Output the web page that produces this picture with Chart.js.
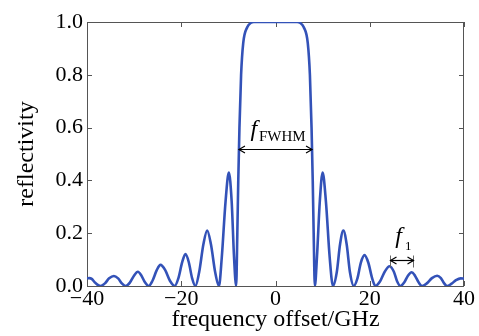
<!DOCTYPE html>
<html>
<head>
<meta charset="utf-8">
<script src="https://cdn.jsdelivr.net/npm/chart.js@4.4.1/dist/chart.umd.min.js"></script>
<style>
  html, body { margin: 0; padding: 0; background: #fff; }
  #chart { display: block; }
</style>
</head>
<body>
<canvas id="chart" width="479" height="336"></canvas>
<script>
// frequency offset (GHz) and reflectivity
const freq = [
  -40, -39.5, -39.0, -38.4, -37.8, -37.2, -36.2, -35.3, -34.3, -33.4, -32.6, -31.8,
  -30.9, -30.0, -29.2, -28.5, -27.7, -26.9, -26.1, -25.2, -24.4, -23.4, -22.4, -21.4,
  -20.6, -19.8, -19.1, -18.4, -17.7, -17.0, -16.2, -15.3, -14.5, -13.7, -12.8, -12.0,
  -11.4, -10.6, -9.9, -9.3, -8.8, -8.35, -8.1, -7.9, -7.65, -7.3, -6.85, -6.0, -5.2, -4.6,
  0,
  4.6, 5.2, 6.0, 6.85, 7.3, 7.65, 7.9, 8.1, 8.35, 8.8, 9.4, 10.0, 10.7, 11.5, 12.2,
  13.0, 13.7, 14.4, 15.1, 15.8, 16.6, 17.4, 18.1, 18.9, 19.7, 20.5, 21.2,
  22.2, 23.2, 24.2, 25.1, 25.8, 26.5, 27.3, 28.1, 28.9, 29.6, 30.4, 31.1,
  32.1, 33.2, 34.3, 35.1, 35.8, 36.4, 37.3, 38.3, 39.3, 40
];
const reflectivity = [
  0.029, 0.030, 0.027, 0.015, 0.005, 0, 0.010, 0.029, 0.038, 0.029, 0.010, 0,
  0.013, 0.040, 0.054, 0.041, 0.014, 0, 0.020, 0.060, 0.080, 0.060, 0.020, 0,
  0.030, 0.090, 0.121, 0.090, 0.030, 0, 0.052, 0.158, 0.210, 0.158, 0.052, 0,
  0.108, 0.320, 0.430, 0.320, 0.110, 0, 0.20, 0.40, 0.60, 0.80, 0.92, 0.98, 0.997, 1.0,
  1.0,
  1.0, 0.997, 0.98, 0.92, 0.80, 0.60, 0.40, 0.20, 0, 0.110, 0.320, 0.430, 0.320, 0.108, 0,
  0.052, 0.158, 0.210, 0.158, 0.052, 0, 0.030, 0.088, 0.117, 0.088, 0.030, 0,
  0.018, 0.055, 0.075, 0.055, 0.018, 0, 0.013, 0.039, 0.052, 0.039, 0.013, 0,
  0.010, 0.030, 0.039, 0.030, 0.010, 0, 0.008, 0.022, 0.029, 0.028
];
const xTicks = [-40, -20, 0, 20, 40];
const yTicks = [0, 0.2, 0.4, 0.6, 0.8, 1.0];

const serif = "'Liberation Serif', 'Times New Roman', serif";
const frameColor = "#555";

function arrowHead(ctx, x, y, dir) {
  ctx.beginPath();
  ctx.moveTo(x + dir * 6, y - 3.5);
  ctx.lineTo(x, y);
  ctx.lineTo(x + dir * 6, y + 3.5);
  ctx.stroke();
}

const framePlugin = {
  id: "frame",
  beforeDatasetsDraw(chart) {
    const { ctx, chartArea: a, scales } = chart;
    ctx.save();
    ctx.strokeStyle = frameColor;
    ctx.lineWidth = 1;
    ctx.strokeRect(a.left + 0.5, a.top + 0.5, a.right - a.left - 1, a.bottom - a.top);
    ctx.beginPath();
    xTicks.forEach(v => {
      const px = Math.round(scales.x.getPixelForValue(v)) + 0.5;
      ctx.moveTo(px, a.bottom); ctx.lineTo(px, a.bottom - 5);
      ctx.moveTo(px, a.top); ctx.lineTo(px, a.top + 5);
    });
    yTicks.forEach(v => {
      const py = Math.round(scales.y.getPixelForValue(v)) + 0.5;
      ctx.moveTo(a.left, py); ctx.lineTo(a.left + 5, py);
      ctx.moveTo(a.right, py); ctx.lineTo(a.right - 5, py);
    });
    ctx.stroke();
    ctx.restore();
  },
  afterDatasetsDraw(chart) {
    const { ctx, scales } = chart;
    const X = v => scales.x.getPixelForValue(v);
    const Y = v => scales.y.getPixelForValue(v);
    ctx.save();
    ctx.strokeStyle = "#000";
    ctx.fillStyle = "#000";
    ctx.lineWidth = 1.2;

    // FWHM arrow
    const ay = Math.round(Y(0.52)) + 0.5;
    const x1 = X(-7.75), x2 = X(7.75);
    ctx.beginPath(); ctx.moveTo(x1, ay); ctx.lineTo(x2, ay); ctx.stroke();
    arrowHead(ctx, x1, ay, 1);
    arrowHead(ctx, x2, ay, -1);
    ctx.textBaseline = "alphabetic";
    ctx.textAlign = "left";
    ctx.font = "italic 24px " + serif;
    ctx.fillText("f", X(-5.3), Y(0.568));
    ctx.font = "15px " + serif;
    ctx.fillText("FWHM", X(-3.5), Y(0.549));

    // f1 spacing marker
    const by = Math.round(Y(0.098)) + 0.5;
    const b1 = Math.round(X(24.2)) + 0.5, b2 = Math.round(X(29.2)) + 0.5;
    ctx.strokeStyle = "#666";
    ctx.lineWidth = 1;
    ctx.beginPath();
    ctx.moveTo(b1, by - 5); ctx.lineTo(b1, by + 7);
    ctx.moveTo(b2, by - 5); ctx.lineTo(b2, by + 7);
    ctx.stroke();
    ctx.strokeStyle = "#000";
    ctx.lineWidth = 1.2;
    ctx.beginPath(); ctx.moveTo(b1, by); ctx.lineTo(b2, by); ctx.stroke();
    arrowHead(ctx, b1, by, 1);
    arrowHead(ctx, b2, by, -1);
    ctx.font = "italic 24px " + serif;
    ctx.fillText("f", X(25.4), Y(0.163));
    ctx.font = "13px " + serif;
    ctx.fillText("1", X(27.5), Y(0.136));
    ctx.restore();
  }
};

new Chart(document.getElementById("chart"), {
  type: "scatter",
  data: {
    datasets: [{
      data: freq.map((f, i) => ({ x: f, y: reflectivity[i] })),
      showLine: true,
      borderColor: "#3352b8",
      borderWidth: 2.6,
      pointRadius: 0,
      cubicInterpolationMode: "monotone",
      fill: false
    }]
  },
  options: {
    responsive: false,
    devicePixelRatio: 1,
    animation: false,
    layout: { padding: { left: 0, right: 15, top: 22, bottom: 0 } },
    plugins: { legend: { display: false }, tooltip: { enabled: false } },
    scales: {
      x: {
        type: "linear",
        min: -40, max: 40,
        afterBuildTicks: s => { s.ticks = xTicks.map(v => ({ value: v })); },
        afterFit: s => { s.height = 50; },
        grid: { display: false, drawTicks: false, tickLength: 0 },
        border: { display: false },
        ticks: {
          color: "#000",
          padding: 0,
          maxRotation: 0,
          font: { family: serif, size: 22 },
          callback: v => (v < 0 ? "\u2212" + Math.abs(v) : String(v))
        },
        title: {
          display: true,
          text: "frequency offset/GHz",
          color: "#000",
          font: { family: serif, size: 24 },
          padding: { top: 0, bottom: 2 }
        }
      },
      y: {
        min: 0, max: 1,
        afterBuildTicks: s => { s.ticks = yTicks.map(v => ({ value: v })); },
        afterFit: s => { s.width = 87; },
        grid: { display: false, drawTicks: false, tickLength: 0 },
        border: { display: false },
        ticks: {
          color: "#000",
          padding: 4,
          font: { family: serif, size: 22 },
          callback: v => v.toFixed(1)
        },
        title: {
          display: true,
          text: "reflectivity",
          color: "#000",
          font: { family: serif, size: 24 },
          padding: { top: 12, bottom: 0 }
        }
      }
    }
  },
  plugins: [framePlugin]
});
</script>
</body>
</html>
